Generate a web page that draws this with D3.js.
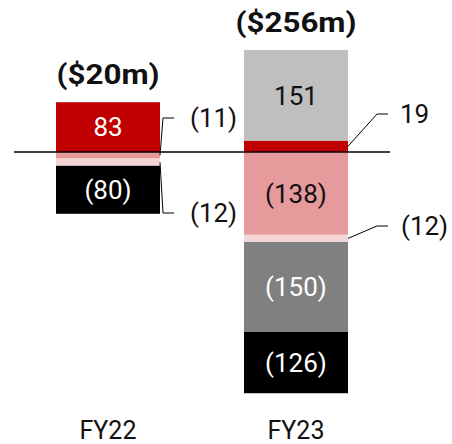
<!DOCTYPE html>
<html>
<head>
<meta charset="utf-8">
<script src="https://cdn.jsdelivr.net/npm/d3@7"></script>
<style>
  html, body { margin: 0; padding: 0; background: #fff; }
  svg { display: block; font-family: Roboto, 'Noto Sans', sans-serif; }
</style>
</head>
<body>
<div id="chart"></div>
<script>
// Data
const categories = ['FY22', 'FY23'];
const totals = ['($20m)', '($256m)'];

// Segment values as drawn, stacked from zero (positives up, negatives down)
const fy22Values = [83, -11, -12, -80];
const fy23Values = [19, 151, -138, -12, -150, -102]; // last bar is drawn shorter than its label
const fy22Labels = ['83', '(11)', '(12)', '(80)'];
const fy23Labels = ['19', '151', '(138)', '(12)', '(150)', '(126)'];

const W = 452, H = 444;
const zeroY = 152;

const fills22 = ['#c00000', '#e69a9b', '#f4d6d6', '#000000'];
const fills23 = ['#c00000', '#bfbfbf', '#e69a9b', '#f4d6d6', '#808080', '#000000'];
const text22 = ['#fff', null, null, '#fff'];
const text23 = [null, '#111', '#111', null, '#fff', '#fff'];
// outside labels: [label y, leader elbow dx, text dx]
const outside22 = { 1: [118, 3, 30], 2: [213, 3, 30] };
const outside23 = { 0: [114, 29, 52], 3: [226, 29, 53] };

const svg = d3.select('#chart').append('svg')
  .attr('width', W)
  .attr('height', H);

const x = d3.scaleBand()
  .domain(categories)
  .range([14, 390])
  .paddingInner(84 / 188)
  .paddingOuter(42 / 188);

const y = d3.scaleLinear()
  .domain([-400, 200])
  .range([zeroY + 240, zeroY - 120]);

function stack(values) {
  let pos = 0, neg = 0;
  return values.map(v => {
    if (v >= 0) { const s = { y0: pos, y1: pos + v }; pos += v; return s; }
    const s = { y0: neg + v, y1: neg }; neg += v; return s;
  });
}

const groups = [
  { cat: categories[0], total: totals[0], values: fy22Values, labels: fy22Labels, fills: fills22, text: text22, outside: outside22 },
  { cat: categories[1], total: totals[1], values: fy23Values, labels: fy23Labels, fills: fills23, text: text23, outside: outside23 },
];

for (const grp of groups) {
  const bx = x(grp.cat);
  const bw = x.bandwidth();
  const cx = bx + bw / 2;
  const segs = stack(grp.values);
  let top = y(0);

  segs.forEach((s, i) => {
    const y1 = y(s.y1), y0 = y(s.y0);
    top = Math.min(top, y1);
    svg.append('rect')
      .attr('x', bx)
      .attr('y', y1)
      .attr('width', bw)
      .attr('height', y0 - y1)
      .attr('fill', grp.fills[i]);

    if (grp.text[i]) {
      svg.append('text')
        .attr('x', cx)
        .attr('y', (y0 + y1) / 2)
        .attr('dy', '0.355em')
        .attr('text-anchor', 'middle')
        .attr('font-size', '26px')
        .attr('fill', grp.text[i])
        .text(grp.labels[i]);
    }

    const out = grp.outside[i];
    if (out) {
      const [ly, elbow, tdx] = out;
      const ex = bx + bw;
      svg.append('polyline')
        .attr('points', [[ex, (y0 + y1) / 2], [ex + elbow, ly], [ex + elbow + 11, ly]].join(' '))
        .attr('fill', 'none')
        .attr('stroke', '#000')
        .attr('stroke-width', 1);
      svg.append('text')
        .attr('x', ex + tdx)
        .attr('y', ly)
        .attr('dy', '0.355em')
        .attr('font-size', '26px')
        .attr('fill', '#111')
        .text(grp.labels[i]);
    }
  });

  // total above bar (the source type is set wide)
  svg.append('text')
    .attr('transform', `translate(${cx},${top - 18}) scale(1.12,1)`)
    .attr('text-anchor', 'middle')
    .attr('font-size', '28px')
    .attr('font-weight', 'bold')
    .attr('fill', '#111')
    .text(grp.total);

  // category label
  svg.append('text')
    .attr('x', cx)
    .attr('y', 439)
    .attr('text-anchor', 'middle')
    .attr('font-size', '25px')
    .attr('fill', '#111')
    .text(grp.cat);
}

// zero line
svg.append('line')
  .attr('x1', 14).attr('x2', 390)
  .attr('y1', y(0)).attr('y2', y(0))
  .attr('stroke', '#000')
  .attr('stroke-width', 1.3);
</script>
</body>
</html>
